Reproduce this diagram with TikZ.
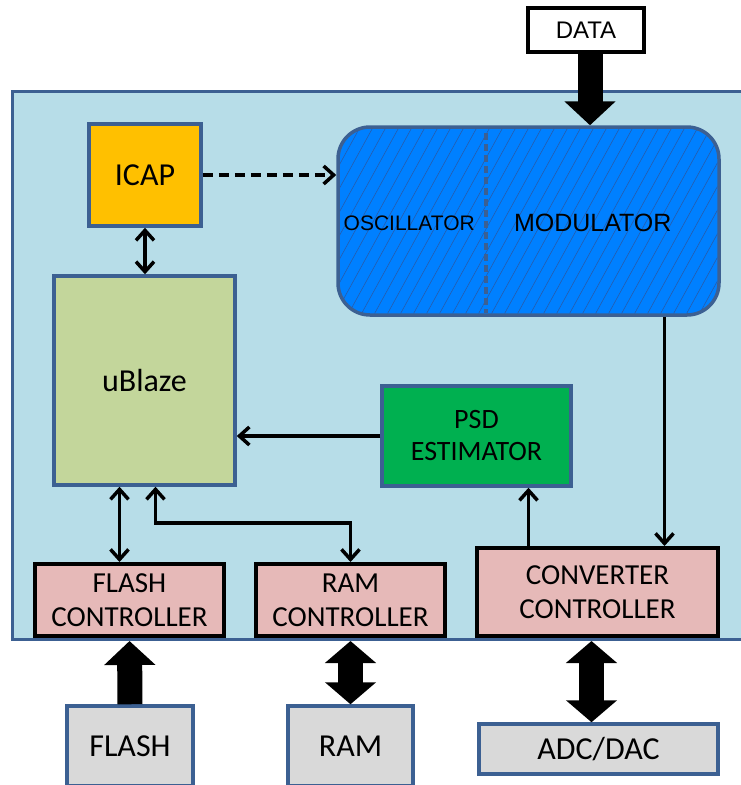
\documentclass[tikz,border=0pt]{standalone}
\usepackage{fontspec}
\setmainfont{Carlito}
\newfontfamily\arialfont{Liberation Sans}
\usetikzlibrary{arrows.meta,calc}
\definecolor{panelblue}{RGB}{183,221,232}
\definecolor{edgeblue}{RGB}{60,96,146}
\definecolor{icapgold}{RGB}{255,192,0}
\definecolor{blazegreen}{RGB}{195,214,155}
\definecolor{psdgreen}{RGB}{0,176,80}
\definecolor{ctrlpink}{RGB}{230,185,184}
\definecolor{extgrey}{RGB}{217,217,217}
\definecolor{modblue}{RGB}{0,128,255}
\definecolor{hatchblue}{RGB}{40,92,170}
\begin{document}
\begin{tikzpicture}[x=1pt,y=-1pt,
  >={Straight Barb[length=10pt,width=18pt]},
  box/.style={draw=edgeblue,line width=3.5pt,inner sep=0pt,align=center},
  ctrl/.style={draw=black,line width=4pt,fill=ctrlpink,inner sep=0pt,align=center,
    minimum height=72pt,font=\fontsize{29}{34}\selectfont},
  ext/.style={box,fill=extgrey,minimum height=80pt,font=\fontsize{32}{36}\selectfont},
  link/.style={line width=3.5pt},
  bus/.style={line width=25pt,-{Triangle[length=24pt,width=50pt]}},
  dualbus/.style={line width=25pt,{Triangle[length=22pt,width=50pt]}-{Triangle[length=22pt,width=50pt]}}]
  \useasboundingbox (0,0) rectangle (741,785);
  \clip (0,0) rectangle (741,785);
  \draw[edgeblue,fill=panelblue,line width=3pt] (12,91) rectangle (780,639); % fpga area

  \node[draw=black,line width=4pt,fill=white,minimum width=116pt,minimum height=44pt,
    font=\arialfont\fontsize{24}{28}\selectfont] (data) at (586,30) {DATA};
  \node[box,fill=icapgold,minimum width=112pt,minimum height=102pt,
    font=\fontsize{32}{36}\selectfont] (icap) at (145,175) {ICAP};
  \node[box,fill=blazegreen,minimum width=181pt,minimum height=209pt,
    font=\fontsize{32}{36}\selectfont] (ublaze) at (144.5,380.5) {uBlaze};
  \node[box,fill=psdgreen,minimum width=189pt,minimum height=100pt,
    font=\fontsize{28}{32}\selectfont] (psd) at (476.5,436) {PSD\\ESTIMATOR};
  \node[box,fill=modblue,rounded corners=32pt,minimum width=381pt,minimum height=188pt] (mod) at (528.5,221) {};
  \begin{scope} % hatching
    \clip[rounded corners=29pt] ([shift={(3.5,3.5)}]mod.north west) rectangle ([shift={(-3.5,-3.5)}]mod.south east);
    \foreach \k in {0,...,40}
      \draw[hatchblue,line width=0.6pt] (215+13*\k,320) -- ++(110,-200);
  \end{scope}
  \draw[edgeblue,line width=4pt,dash pattern=on 7pt off 4pt]
    ($(mod.north west)+(150,8)$) -- ($(mod.south west)+(150,-4)$);
  \node[font=\arialfont\fontsize{21}{24}\selectfont] (osc) at ([xshift=73pt,yshift=-2pt]mod.west) {OSCILLATOR};
  \node[font=\arialfont\fontsize{25}{28}\selectfont] (modtext) at ([xshift=-128pt,yshift=-2pt]mod.east) {MODULATOR};

  \node[ctrl,minimum width=189pt] (flashctrl) at (129.5,600) {FLASH\\CONTROLLER};
  \node[ctrl,minimum width=189pt] (ramctrl) at (350.5,600) {RAM\\CONTROLLER};
  \node[ctrl,minimum width=241pt,minimum height=88pt] (convctrl) at (597.5,592) {CONVERTER\\CONTROLLER};
  \node[ext,minimum width=126pt] (flash) at (130,746) {FLASH};
  \node[ext,minimum width=125pt] (ram) at (350.5,746) {RAM};
  \node[ext,minimum width=239pt,minimum height=50pt] (adc) at (598.5,749) {ADC/DAC};

  \draw[bus] ([xshift=4pt]data.south) -- ([xshift=4pt]data.south |- mod.north);
  \draw[link,->,dash pattern=on 10pt off 6pt] (icap.east) -- (icap.east -| mod.west);
  \draw[link,<->] (icap.south) -- (icap.south |- ublaze.north);
  \draw[link,->] (psd.west) -- (psd.west -| ublaze.east);
  \draw[link,<->] ([xshift=-25pt]ublaze.south) -- ([xshift=-25pt]ublaze.south |- flashctrl.north);
  \draw[link,<->] ([xshift=11pt]ublaze.south) -- ++(0,36) -| (ramctrl.north);
  \draw[link,->] ([xshift=-69pt]convctrl.north) -- ([xshift=-69pt]convctrl.north |- psd.south);
  \draw[link,->] ([xshift=136pt]mod.south) -- ([xshift=136pt]mod.south |- convctrl.north);
  \draw[bus,shorten >=3pt] (flash.north) -- (flashctrl.south);
  \draw[dualbus,shorten <=3pt] (ramctrl.south) -- (ram.north);
  \draw[dualbus,shorten <=3pt] ([xshift=-6pt]convctrl.south) -- ([xshift=-6pt]convctrl.south |- adc.north);
\end{tikzpicture}
\end{document}
